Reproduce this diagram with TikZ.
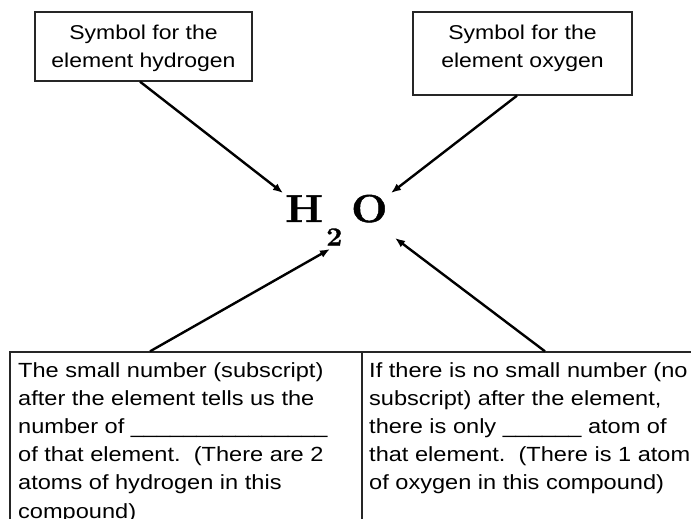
\documentclass[tikz,border=0pt]{standalone}
\usepackage{fontspec}
\setmainfont{Liberation Sans}[FakeStretch=1.15]
\newfontfamily\chemfont{Latin Modern Roman}[BoldFeatures={FakeStretch=1.1,FakeBold=1.2}]
\usetikzlibrary{arrows.meta,calc}
\begin{document}
\begin{tikzpicture}[x=1pt,y=-1pt,
  box/.style={draw=black!85, line width=1.3pt, inner sep=0},
  toptext/.style={align=center, inner sep=0, font=\fontsize{20}{28}\selectfont, anchor=north},
  bottext/.style={align=left, inner sep=0, font=\fontsize{20.5}{28.2}\selectfont, anchor=north west},
  arr/.style={line width=2.4pt, -{Latex[length=10pt,width=8pt]}},
  chem/.style={inner sep=0, anchor=base west, font=\chemfont\bfseries\fontsize{39}{39}\selectfont}]
\useasboundingbox (0,0) rectangle (691,519);
% top boxes
\node[box, minimum width=217pt, minimum height=69pt] (b1) at (143.5,46.5) {};
\node[box, minimum width=219pt, minimum height=83pt] (b2) at (522.5,53.5) {};
\node[toptext] (t1) at (143.5,24.5) {Symbol for the\\element hydrogen};
\node[toptext] (t2) at (522.5,24.5) {Symbol for the\\element oxygen};
% bottom boxes
\node[box, minimum width=352pt, minimum height=188pt] (b3) at (186,446) {};
\node[box, minimum width=358pt, minimum height=188pt] (b4) at (541,446) {};
\node[bottext] (t3) at (18,362) {The small number (subscript)\\
after the element tells us the\\
number of \_\_\_\_\_\_\_\_\_\_\_\_\_\_\_\\
of that element.\ \ (There are 2\\
atoms of hydrogen in this\\
compound)};
\node[bottext] (t4) at (369,362) {If there is no small number (no\\
subscript) after the element,\\
there is only \_\_\_\_\_\_ atom of\\
that element.\ \ (There is 1 atom\\
of oxygen in this compound)};
% formula
\node[chem] (H) at (285,222) {H};
\node[chem, font=\chemfont\bfseries\fontsize{26}{26}\selectfont] (two) at (326,245.5) {2};
\node[chem] (O) at (351,222) {O};
% arrows
\draw[arr] ($(b1.south)+(-3.5,0)$) -- (283,193) coordinate (e1);
\draw[arr] ($(b2.south)+(-5.5,0)$) -- (391,193) coordinate (e2);
\draw[arr] ($(b3.north)+(-36,0)$) -- (330,249) coordinate (e3);
\draw[arr] ($(b4.north)+(4,0)$) -- (395,238) coordinate (e4);
\end{tikzpicture}
\end{document}
